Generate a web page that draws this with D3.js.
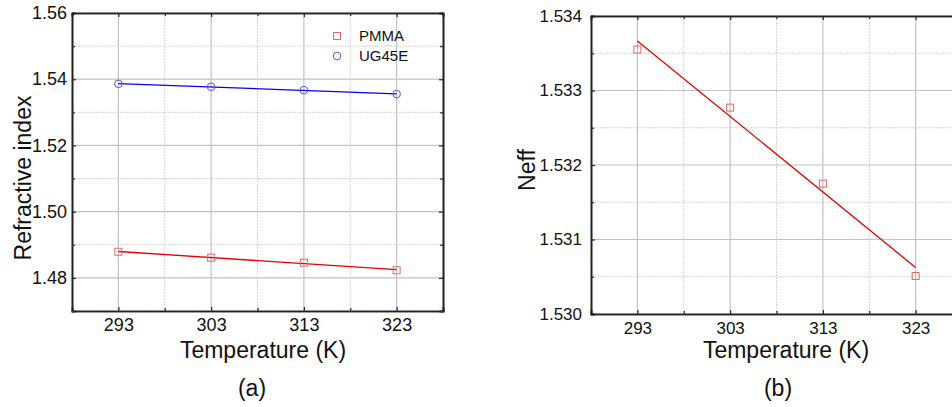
<!DOCTYPE html>
<html>
<head>
<meta charset="utf-8">
<script src="https://cdn.jsdelivr.net/npm/d3@7"></script>
<style>
  body { margin: 0; background: #fff; }
  svg { font-family: "Liberation Sans", Arial, sans-serif; }
</style>
</head>
<body>
<script>
// Chart data
var temps = [293, 303, 313, 323];
var pmma = [1.4879, 1.4861, 1.4846, 1.4823];
var ug45e = [1.5386, 1.5377, 1.5367, 1.5355];
var neff = [1.53355, 1.53277, 1.53175, 1.53051];
var xTicks = [293, 303, 313, 323];
var xMinor = [298, 308, 318];
var yTicksA = [1.48, 1.50, 1.52, 1.54, 1.56];
var yMinorA = [1.47, 1.49, 1.51, 1.53, 1.55];
var yTicksB = [1.530, 1.531, 1.532, 1.533, 1.534];
var yMinorB = [1.5305, 1.5315, 1.5325, 1.5335];

var W = 952, H = 407;
var svg = d3.select("body").append("svg").attr("width", W).attr("height", H);

function fit(xs, ys) {
  // least squares line
  var mx = d3.mean(xs), my = d3.mean(ys);
  var num = d3.sum(xs, function(x, i) { return (x - mx) * (ys[i] - my); });
  var den = d3.sum(xs, function(x) { return (x - mx) * (x - mx); });
  var b = num / den;
  return function(x) { return my + b * (x - mx); };
}

function panel(opt) {
  var g = svg.append("g");
  var x = d3.scaleLinear().domain([288, 328]).range([opt.left, opt.left + opt.xw]);
  var y = d3.scaleLinear().domain(opt.ydom).range([opt.bottom, opt.top]);
  var x0 = x.range()[0], x1 = x.range()[1];

  // grid
  g.selectAll(".gxm").data(xMinor).enter().append("line")
    .attr("x1", function(d) { return x(d); }).attr("x2", function(d) { return x(d); })
    .attr("y1", opt.top).attr("y2", opt.bottom)
    .attr("stroke", "#d4d4d4").attr("stroke-dasharray", "2,1");
  g.selectAll(".gym").data(opt.yMinor).enter().append("line")
    .attr("x1", x0).attr("x2", x1)
    .attr("y1", function(d) { return y(d); }).attr("y2", function(d) { return y(d); })
    .attr("stroke", "#d4d4d4").attr("stroke-dasharray", "2,1");
  g.selectAll(".gx").data(xTicks).enter().append("line")
    .attr("x1", function(d) { return x(d); }).attr("x2", function(d) { return x(d); })
    .attr("y1", opt.top).attr("y2", opt.bottom)
    .attr("stroke", "#c2c2c2").attr("stroke-width", 1.2);
  g.selectAll(".gy").data(opt.yTicks).enter().append("line")
    .attr("x1", x0).attr("x2", x1)
    .attr("y1", function(d) { return y(d); }).attr("y2", function(d) { return y(d); })
    .attr("stroke", "#c2c2c2").attr("stroke-width", 1.2);

  // axes with inward ticks
  g.append("g").attr("transform", "translate(0," + opt.bottom + ")")
    .call(d3.axisBottom(x).tickValues(xTicks).tickSize(-4).tickPadding(opt.xpad).tickFormat(d3.format("d")));
  g.append("g").attr("transform", "translate(0," + opt.top + ")")
    .call(d3.axisTop(x).tickValues(xTicks).tickSize(-4).tickFormat(""));
  g.append("g").attr("transform", "translate(" + x0 + ",0)")
    .call(d3.axisLeft(y).tickValues(opt.yTicks).tickSize(-4).tickPadding(opt.ypad).tickFormat(d3.format(opt.fmt)));
  g.append("g").attr("transform", "translate(" + x1 + ",0)")
    .call(d3.axisRight(y).tickValues(opt.yTicks).tickSize(-4).tickFormat(""));
  g.append("g").attr("transform", "translate(0," + opt.bottom + ")")
    .call(d3.axisBottom(x).tickValues(xMinor).tickSize(-3).tickFormat(""));
  g.append("g").attr("transform", "translate(0," + opt.top + ")")
    .call(d3.axisTop(x).tickValues(xMinor).tickSize(-3).tickFormat(""));
  g.append("g").attr("transform", "translate(" + x0 + ",0)")
    .call(d3.axisLeft(y).tickValues(opt.yMinor).tickSize(-3).tickFormat(""));
  g.append("g").attr("transform", "translate(" + x1 + ",0)")
    .call(d3.axisRight(y).tickValues(opt.yMinor).tickSize(-3).tickFormat(""));
  g.selectAll(".domain").attr("stroke", "#222").attr("stroke-width", 1.6);
  g.selectAll(".tick line").attr("stroke", "#333").attr("stroke-width", 1.3);
  g.selectAll(".tick text").style("font-size", opt.tickFont + "px").attr("fill", "#111")
    .style("font-family", "'Liberation Sans', Arial, sans-serif");

  // series
  opt.series.forEach(function(s) {
    var f = fit(temps, s.values);
    g.append("line")
      .attr("x1", x(temps[0])).attr("x2", x(temps[temps.length - 1]))
      .attr("y1", y(f(temps[0]))).attr("y2", y(f(temps[temps.length - 1])))
      .attr("stroke", s.line).attr("stroke-width", 1.3);
    var pts = g.selectAll(null).data(s.values).enter();
    if (s.shape == "square") {
      pts.append("rect")
        .attr("x", function(d, i) { return x(temps[i]) - 3.5; })
        .attr("y", function(d) { return y(d) - 3.5; })
        .attr("width", 7).attr("height", 7)
        .attr("fill", "none").attr("stroke", s.marker).attr("stroke-width", 1);
    } else {
      pts.append("circle")
        .attr("cx", function(d, i) { return x(temps[i]); })
        .attr("cy", function(d) { return y(d); })
        .attr("r", 3.8)
        .attr("fill", "none").attr("stroke", s.marker).attr("stroke-width", 1);
    }
  });

  // titles
  g.append("text").attr("x", opt.xtx).attr("y", 358).attr("text-anchor", "middle")
    .attr("font-size", 23).attr("fill", "#111").text("Temperature (K)");
  g.append("text").attr("transform", "translate(" + opt.ytx + "," + opt.yty + ") rotate(-90)")
    .attr("text-anchor", "middle").attr("font-size", 23).attr("fill", "#111").text(opt.ylabel);
  g.append("text").attr("x", opt.captx).attr("y", 396).attr("text-anchor", "middle")
    .attr("font-size", 23).attr("fill", "#111").text(opt.caption);
  return { g: g, x: x, y: y };
}

var pa = panel({
  left: 72, xw: 371, top: 13, bottom: 311, ydom: [1.47, 1.56],
  yTicks: yTicksA, yMinor: yMinorA, fmt: ".2f", xpad: 7, ypad: 5, tickFont: 18,
  ylabel: "Refractive index", ytx: 31, yty: 178, xtx: 263, captx: 252, caption: "(a)",
  series: [
    { values: pmma, shape: "square", marker: "#e06a6a", line: "#e00000" },
    { values: ug45e, shape: "circle", marker: "#5555e0", line: "#0000ff" }
  ]
});

var pb = panel({
  left: 591, xw: 371, top: 16, bottom: 314, ydom: [1.530, 1.534],
  yTicks: yTicksB, yMinor: yMinorB, fmt: ".3f", xpad: 8, ypad: 9, tickFont: 17,
  ylabel: "Neff", ytx: 535, yty: 170, xtx: 786, captx: 778, caption: "(b)",
  series: [
    { values: neff, shape: "square", marker: "#e06a6a", line: "#e00000" }
  ]
});

// legend for panel a
var legend = pa.g.append("g");
var items = [{ name: "PMMA", shape: "square", color: "#e06a6a" }, { name: "UG45E", shape: "circle", color: "#5555e0" }];
items.forEach(function(it, i) {
  var ly = 36 + i * 20;
  if (it.shape == "square") {
    legend.append("rect").attr("x", 333.5).attr("y", ly - 3.5).attr("width", 7).attr("height", 7)
      .attr("fill", "none").attr("stroke", it.color);
  } else {
    legend.append("circle").attr("cx", 337).attr("cy", ly).attr("r", 3.8)
      .attr("fill", "none").attr("stroke", it.color);
  }
  legend.append("text").attr("x", 359).attr("y", ly + 5).attr("font-size", 15).attr("fill", "#111").text(it.name);
});
</script>
</body>
</html>
